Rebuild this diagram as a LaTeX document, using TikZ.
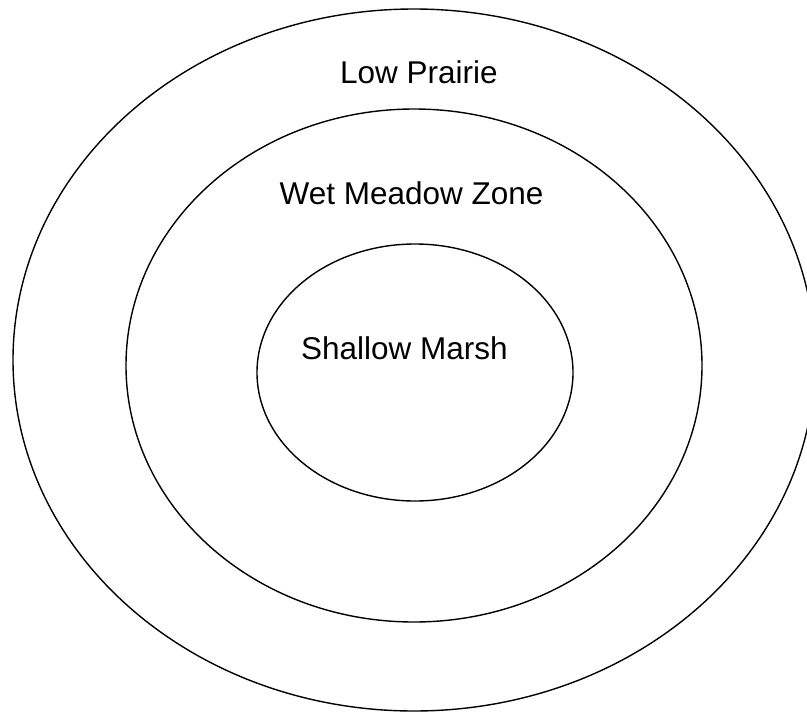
\documentclass[tikz,border=0pt]{standalone}
\usepackage{fontspec}
\setmainfont{Liberation Sans}
\usetikzlibrary{shapes.geometric}

\begin{document}
\begin{tikzpicture}[x=1pt,y=-1pt,
  zone/.style={draw=black,ellipse,line width=1.4pt,inner sep=0pt},
  zonelabel/.style={anchor=base,inner sep=0pt,font=\fontsize{31.5}{38}\selectfont}]
  \useasboundingbox (0,0) rectangle (807,713);
  \node[zone,minimum width=802,minimum height=702] (prairie) at (414,360) {};
  \node[zone,minimum width=576,minimum height=513] (meadow) at (414,365.5) {};
  \node[zone,minimum width=316,minimum height=257] (marsh) at (415,372.5) {};
  \node[zonelabel] (prairietext) at (419,83) {Low Prairie};
  \node[zonelabel] (meadowtext) at (411.5,204) {Wet Meadow Zone};
  \node[zonelabel] (marshtext) at (404.5,359) {Shallow Marsh};
\end{tikzpicture}
\end{document}
